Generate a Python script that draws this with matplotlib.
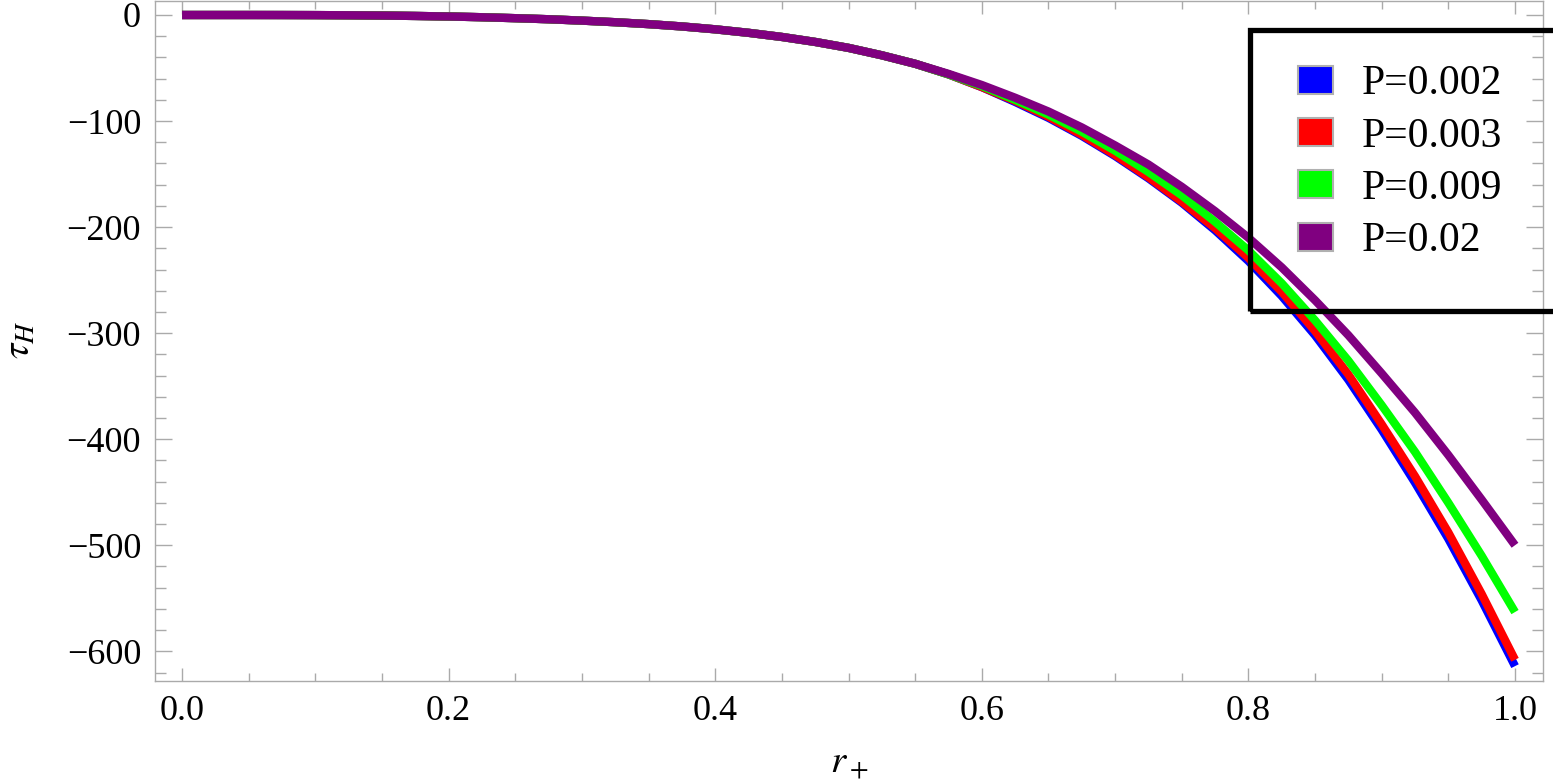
import matplotlib
matplotlib.use("Agg")
import matplotlib.pyplot as plt
from matplotlib.patches import Patch, Rectangle
from matplotlib.ticker import MultipleLocator

plt.rcParams["font.family"] = ["Liberation Serif", "DejaVu Serif"]
plt.rcParams["mathtext.fontset"] = "stix"

# horizon radius values and tau_H
r_plus = [0.0, 0.025, 0.05, 0.075, 0.1, 0.125, 0.15, 0.175, 0.2, 0.225,
          0.25, 0.275, 0.3, 0.325, 0.35, 0.375, 0.4, 0.425, 0.45, 0.475,
          0.5, 0.525, 0.55, 0.575, 0.6, 0.625, 0.65, 0.675, 0.7, 0.725,
          0.75, 0.775, 0.8, 0.825, 0.85, 0.875, 0.9, 0.925, 0.95, 0.975, 1.0]

# all four curves coincide up to r_+ ~ 0.55
tau_low = [0, 0, 0, -0.03, -0.1, -0.25, -0.5, -0.9, -1.4, -2.1,
           -3.0, -4.0, -5.3, -6.8, -8.6, -10.8, -13.5, -16.8, -20.7, -25.4,
           -31, -38, -46]
tau_p002 = tau_low + [-56, -68, -82, -97, -114, -133, -154, -177, -203,
                      -232, -265, -302, -344, -391, -441, -494, -552, -614]
tau_p003 = tau_low + [-56, -68, -81, -96, -113, -132, -153, -176, -201,
                      -229, -261, -298, -339, -386, -435, -488, -546, -608]
tau_p009 = tau_low + [-56, -67, -80, -94, -110, -128, -148, -170, -195,
                      -222, -253, -288, -326, -368, -412, -460, -510, -563]
tau_p02 = tau_low + [-55.5, -66, -78, -91, -106, -123, -141, -162, -185,
                     -210, -238, -269, -302, -338, -375, -415, -457, -500]

labels = ["P=0.002", "P=0.003", "P=0.009", "P=0.02"]
colors = ["#0000ff", "#ff0000", "#00ff00", "#800080"]
series = [tau_p002, tau_p003, tau_p009, tau_p02]

fig = plt.figure(figsize=(15.53, 7.84), dpi=100)
ax = fig.add_axes([155 / 1553, 1 - 681 / 784, (1543 - 155) / 1553, 680 / 784])

for vals, c in zip(series, colors):
    ax.plot(r_plus, vals, color=c, lw=6, solid_capstyle="butt",
            solid_joinstyle="round")

ax.set_xlim(-0.0203, 1.021)
ax.set_ylim(-628, 13.2)
ax.set_xticks([0.0, 0.2, 0.4, 0.6, 0.8, 1.0])
ax.set_xticklabels(["0.0", "0.2", "0.4", "0.6", "0.8", "1.0"])
ax.set_yticks([0, -100, -200, -300, -400, -500, -600])
ax.xaxis.set_minor_locator(MultipleLocator(0.05))
ax.yaxis.set_minor_locator(MultipleLocator(20))

for s in ax.spines.values():
    s.set_color("#aaaaaa")
    s.set_linewidth(1)
ax.tick_params(which="both", direction="in", top=True, right=True,
               color="#aaaaaa", width=1, labelsize=26)
ax.tick_params(axis="x", which="major", length=9.4, pad=10)
ax.tick_params(axis="x", which="minor", length=5.8)
ax.tick_params(axis="y", which="major", length=12, pad=10)
ax.tick_params(axis="y", which="minor", length=8)

fig.text(20 / 1553, 1 - 340 / 784, r"$\tau_H$", rotation=90,
         ha="center", va="center", fontsize=28)
fig.text(849 / 1553, 1 - 764 / 784, r"$r_+$", ha="center", va="center",
         fontsize=28)

handles = [Patch(facecolor=c, edgecolor="#b0b0b0", linewidth=1.5) for c in colors]
fig.legend(handles, labels, loc="upper left",
           bbox_to_anchor=(1298 / 1553, 1 - 65 / 784), frameon=False,
           fontsize=30, handlelength=0.85, handleheight=0.66,
           handletextpad=0.68, labelspacing=0.33, borderpad=0,
           borderaxespad=0)

box = Rectangle((1250 / 1553, 1 - 311 / 784), 400 / 1553, 281 / 784,
                transform=fig.transFigure, fill=False, edgecolor="black",
                linewidth=3.8, zorder=10)
fig.add_artist(box)

fig.savefig("out.png", dpi=100)
